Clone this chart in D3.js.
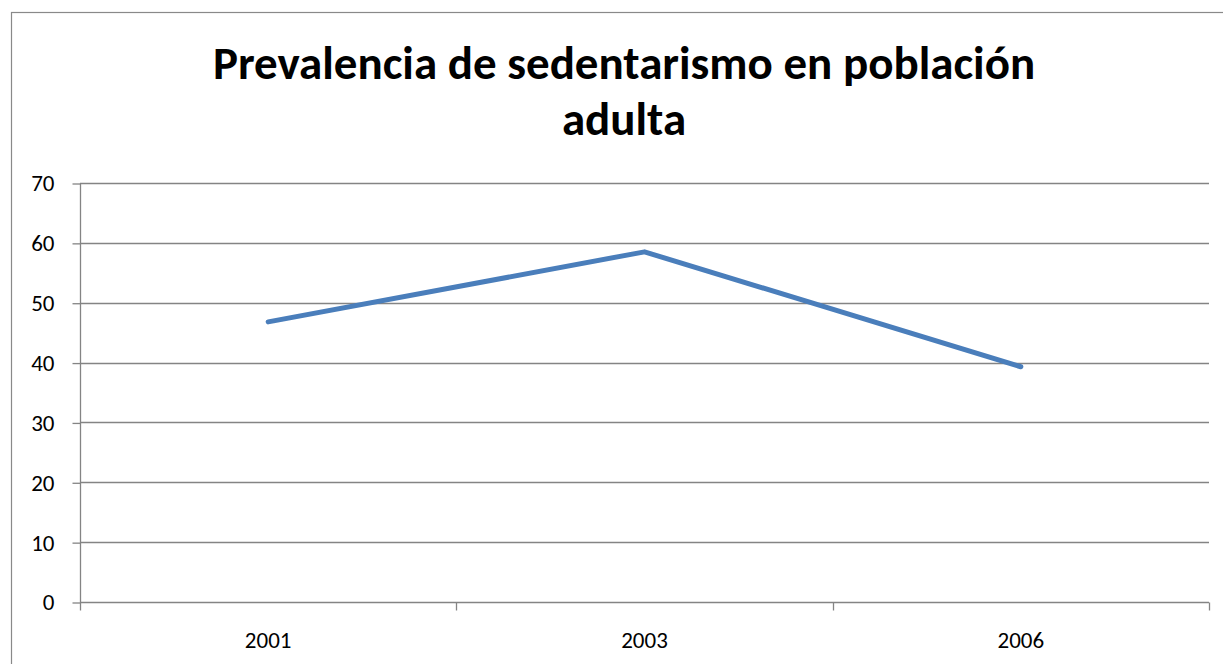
<!DOCTYPE html>
<html>
<head>
<meta charset="utf-8">
<script src="https://cdn.jsdelivr.net/npm/d3@7"></script>
<style>
  body { margin: 0; background: #fff; }
</style>
</head>
<body>
<div id="chart"></div>
<script>
// Datos
const years = ["2001", "2003", "2006"];
const values = [46.8, 58.5, 39.3];
const yTicks = [0, 10, 20, 30, 40, 50, 60, 70];
const titleLines = ["Prevalencia de sedentarismo en población", "adulta"];

var width = 1223, height = 664;
var svg = d3.select("#chart").append("svg").attr("width", width).attr("height", height);

// Marco exterior
svg.append("rect")
  .attr("x", 11.5).attr("y", 12.5)
  .attr("width", 1222).attr("height", 700)
  .attr("fill", "none")
  .attr("stroke", "#898989")
  .attr("stroke-width", 1.2);

// Escalas (plotTop en vez de "top", que choca con window.top)
var plotLeft = 80, plotRight = 1209, plotTop = 183, plotBottom = 602;
var xScale = d3.scaleBand().domain(years).range([plotLeft, plotRight]);
var yScale = d3.scaleLinear().domain([0, 70]).range([plotBottom, plotTop]);

var gridColor = "#848484";

// Líneas de cuadrícula
svg.append("g")
  .selectAll("line")
  .data(yTicks.filter(d => d > 0))
  .enter()
  .append("line")
  .attr("x1", plotLeft).attr("x2", plotRight)
  .attr("y1", d => Math.round(yScale(d)) + 0.5)
  .attr("y2", d => Math.round(yScale(d)) + 0.5)
  .attr("stroke", gridColor)
  .attr("stroke-width", 1.3);

// Eje Y
var yAxis = d3.axisLeft(yScale).tickValues(yTicks).tickSize(8).tickPadding(18);
var gy = svg.append("g")
  .attr("transform", "translate(" + (plotLeft + 0.5) + ",0.5)")
  .call(yAxis);
gy.selectAll("path, line").attr("stroke", gridColor).attr("stroke-width", 1.3);
gy.select(".domain").attr("d", "M0," + Math.round(yScale(70)) + "V" + Math.round(yScale(0)));
gy.selectAll("text")
  .attr("font-family", "Carlito, 'Open Sans', sans-serif")
  .attr("font-size", "23px")
  .attr("fill", "#000");

// Eje X con marcas en los límites de categoría
var gx = svg.append("g").attr("transform", "translate(0," + (Math.round(plotBottom) + 0.5) + ")");
gx.append("line")
  .attr("x1", plotLeft).attr("x2", plotRight)
  .attr("stroke", gridColor)
  .attr("stroke-width", 1.3);
var bounds = years.map(d => xScale(d)).concat([plotRight]);
gx.selectAll(".tick")
  .data(bounds)
  .enter()
  .append("line")
  .attr("x1", d => Math.round(d) + 0.5).attr("x2", d => Math.round(d) + 0.5)
  .attr("y1", 0).attr("y2", 8)
  .attr("stroke", gridColor)
  .attr("stroke-width", 1.3);
gx.selectAll("text")
  .data(years)
  .enter()
  .append("text")
  .attr("x", d => xScale(d) + xScale.bandwidth() / 2)
  .attr("y", 45)
  .attr("text-anchor", "middle")
  .attr("font-family", "Carlito, 'Open Sans', sans-serif")
  .attr("font-size", "23px")
  .attr("fill", "#000")
  .text(d => d);

// Línea de datos
var line = d3.line()
  .x((d, i) => xScale(years[i]) + xScale.bandwidth() / 2)
  .y(d => yScale(d));
svg.append("path")
  .datum(values)
  .attr("d", line)
  .attr("fill", "none")
  .attr("stroke", "#4A7EBB")
  .attr("stroke-width", 5)
  .attr("stroke-linecap", "round")
  .attr("stroke-linejoin", "round");

// Título
svg.append("g")
  .selectAll("text")
  .data(titleLines)
  .enter()
  .append("text")
  .attr("x", 624)
  .attr("y", (d, i) => 79 + i * 56)
  .attr("text-anchor", "middle")
  .attr("font-family", "Carlito, 'Open Sans', sans-serif")
  .attr("font-weight", "bold")
  .attr("font-size", "47px")
  .attr("fill", "#000")
  .text(d => d);
</script>
</body>
</html>
